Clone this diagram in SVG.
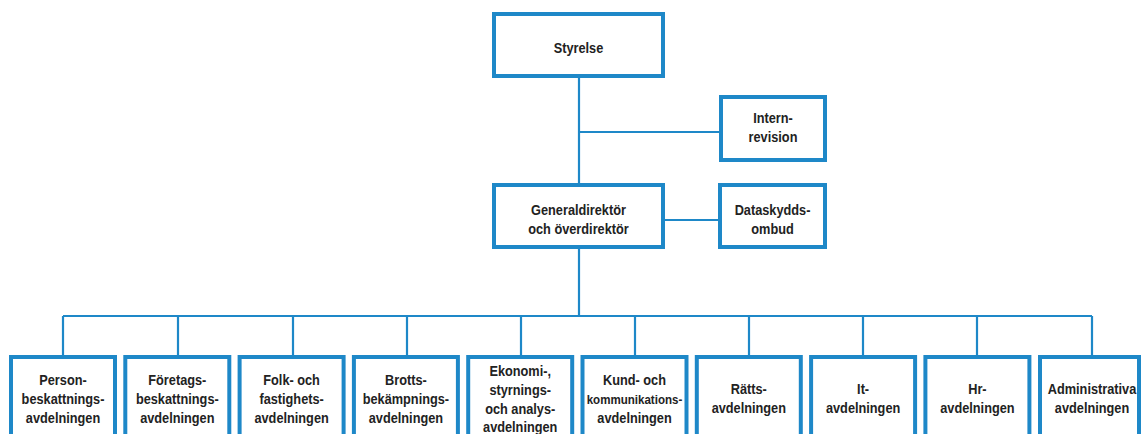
<svg xmlns="http://www.w3.org/2000/svg" width="1141" height="434" viewBox="0 0 1141 434">
<style>
.box{fill:#fff;stroke:#1e88c8;stroke-width:4}
.ln{fill:none;stroke:#1e88c8;stroke-width:2.2}
text{font-family:"Liberation Sans",Arial,sans-serif;font-weight:bold;font-size:15px;fill:#222;text-anchor:middle}
</style>
<rect width="1141" height="434" fill="#fff"/>
<g id="connectors">
<path class="ln" d="M579 78V183M579 132H719M665 220H718M579 249V316M63 316H1092M63 316V355M178 316V355M293 316V355M407 316V355M521 316V355M635 316V355M749 316V355M863 316V355M977 316V355M1092 316V355"/>
</g>
<g id="styrelse"><rect class="box" x="494" y="14" width="169" height="62"/>
<text transform="translate(578.5 53) scale(0.85 1)">Styrelse</text></g>
<g id="internrevision"><rect class="box" x="721" y="97" width="104" height="63"/>
<text transform="translate(773 123) scale(0.85 1)"><tspan x="0">Intern-</tspan><tspan x="0" dy="19">revision</tspan></text></g>
<g id="generaldirektor"><rect class="box" x="494" y="185" width="169" height="62"/>
<text transform="translate(578.5 215) scale(0.85 1)"><tspan x="0">Generaldirektör</tspan><tspan x="0" dy="19">och överdirektör</tspan></text></g>
<g id="dataskyddsombud"><rect class="box" x="720" y="185" width="105" height="62"/>
<text transform="translate(772.5 215) scale(0.85 1)"><tspan x="0">Dataskydds-</tspan><tspan x="0" dy="19">ombud</tspan></text></g>
<g id="person"><rect class="box" x="11" y="357" width="104" height="100"/>
<text transform="translate(63 385) scale(0.85 1)"><tspan x="0">Person-</tspan><tspan x="0" dy="19">beskattnings-</tspan><tspan x="0" dy="19">avdelningen</tspan></text></g>
<g id="foretag"><rect class="box" x="125.3" y="357" width="104" height="100"/>
<text transform="translate(177.3 385) scale(0.85 1)"><tspan x="0">Företags-</tspan><tspan x="0" dy="19">beskattnings-</tspan><tspan x="0" dy="19">avdelningen</tspan></text></g>
<g id="folk"><rect class="box" x="239.6" y="357" width="104" height="100"/>
<text transform="translate(291.6 385) scale(0.85 1)"><tspan x="0">Folk- och</tspan><tspan x="0" dy="19">fastighets-</tspan><tspan x="0" dy="19">avdelningen</tspan></text></g>
<g id="brott"><rect class="box" x="353.9" y="357" width="104" height="100"/>
<text transform="translate(405.9 385) scale(0.85 1)"><tspan x="0">Brotts-</tspan><tspan x="0" dy="19">bekämpnings-</tspan><tspan x="0" dy="19">avdelningen</tspan></text></g>
<g id="ekonomi"><rect class="box" x="468.2" y="357" width="104" height="100"/>
<text transform="translate(520.2 376) scale(0.85 1)"><tspan x="0">Ekonomi-,</tspan><tspan x="0" dy="19">styrnings-</tspan><tspan x="0" dy="19">och analys-</tspan><tspan x="0" dy="18.5">avdelningen</tspan></text></g>
<g id="kund"><rect class="box" x="582.5" y="357" width="104" height="100"/>
<text transform="translate(634.5 385) scale(0.85 1)"><tspan x="0">Kund- och</tspan><tspan x="0" dy="19" font-size="13.6">kommunikations-</tspan><tspan x="0" dy="19">avdelningen</tspan></text></g>
<g id="ratt"><rect class="box" x="696.8" y="357" width="104" height="100"/>
<text transform="translate(748.8 394) scale(0.85 1)"><tspan x="0">Rätts-</tspan><tspan x="0" dy="19">avdelningen</tspan></text></g>
<g id="it"><rect class="box" x="811.1" y="357" width="104" height="100"/>
<text transform="translate(863.1 394) scale(0.85 1)"><tspan x="0">It-</tspan><tspan x="0" dy="19">avdelningen</tspan></text></g>
<g id="hr"><rect class="box" x="925.4" y="357" width="104" height="100"/>
<text transform="translate(977.4 394) scale(0.85 1)"><tspan x="0">Hr-</tspan><tspan x="0" dy="19">avdelningen</tspan></text></g>
<g id="administrativa"><rect class="box" x="1040" y="357" width="99" height="100"/>
<text transform="translate(1092 394) scale(0.85 1)"><tspan x="0">Administrativa</tspan><tspan x="0" dy="19">avdelningen</tspan></text></g>
</svg>
